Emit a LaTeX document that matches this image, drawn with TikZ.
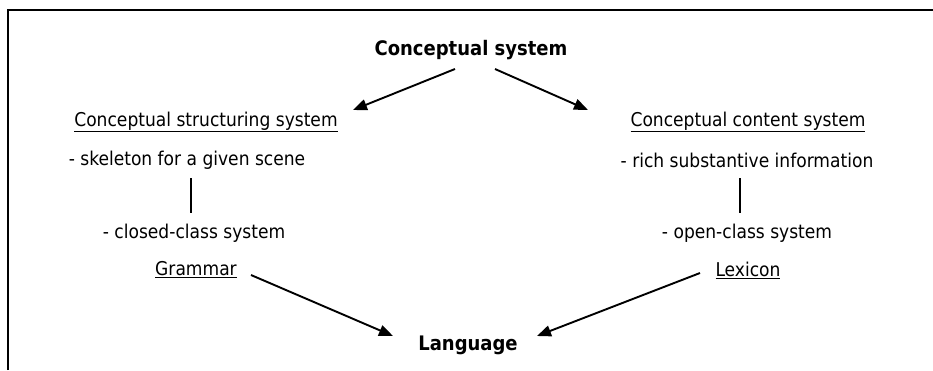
\documentclass[tikz,border=0pt]{standalone}
\usepackage{fontspec}
\setmainfont{DejaVu Sans Condensed}
\usetikzlibrary{arrows.meta}
\begin{document}
\begin{tikzpicture}[x=1pt,y=-1pt,
  lbl/.style={inner sep=0pt,font=\fontsize{19}{22}\selectfont},
  head/.style={lbl,font=\fontsize{20}{23}\selectfont\bfseries},
  conn/.style={line width=1.9pt,-{Triangle[length=14pt,width=11pt]}},
  link/.style={line width=1.2pt}]
\useasboundingbox (0,0) rectangle (933,370);
% open frame: top and left edges only
\draw[line width=1.8pt] (8,370) -- (8,10) -- (933,10);

\node[head] (cs) at (471,50) {Conceptual system};
\node[lbl] (css) at (206,122) {\underline{Conceptual structuring system}};
\node[lbl] (skel) at (187,160) {- skeleton for a given scene};
\node[lbl] (closed) at (194,233) {- closed-class system};
\node[lbl] (gram) at (196,270) {\underline{Grammar}};

\node[lbl] (ccs) at (748,122) {\underline{Conceptual content system}};
\node[lbl] (rich) at (747,160) {- rich substantive information};
\node[lbl] (open) at (747,233) {- open-class system};
\node[lbl] (lex) at (748,270) {\underline{Lexicon}};

\node[head] (lang) at (468,345) {Language};

\coordinate (a1s) at (455,69);  \coordinate (a1e) at (353,110);
\coordinate (a2s) at (495,69);  \coordinate (a2e) at (588,110);
\coordinate (a3s) at (251,275); \coordinate (a3e) at (393,336);
\coordinate (a4s) at (700,273); \coordinate (a4e) at (537,336);
\draw[conn] (a1s) -- (a1e);
\draw[conn] (a2s) -- (a2e);
\draw[conn] (a3s) -- (a3e);
\draw[conn] (a4s) -- (a4e);

\coordinate (l1s) at (191,178); \coordinate (l1e) at (191,213);
\coordinate (l2s) at (740,178); \coordinate (l2e) at (740,213);
\draw[link] (l1s) -- (l1e);
\draw[link] (l2s) -- (l2e);
\end{tikzpicture}
\end{document}
